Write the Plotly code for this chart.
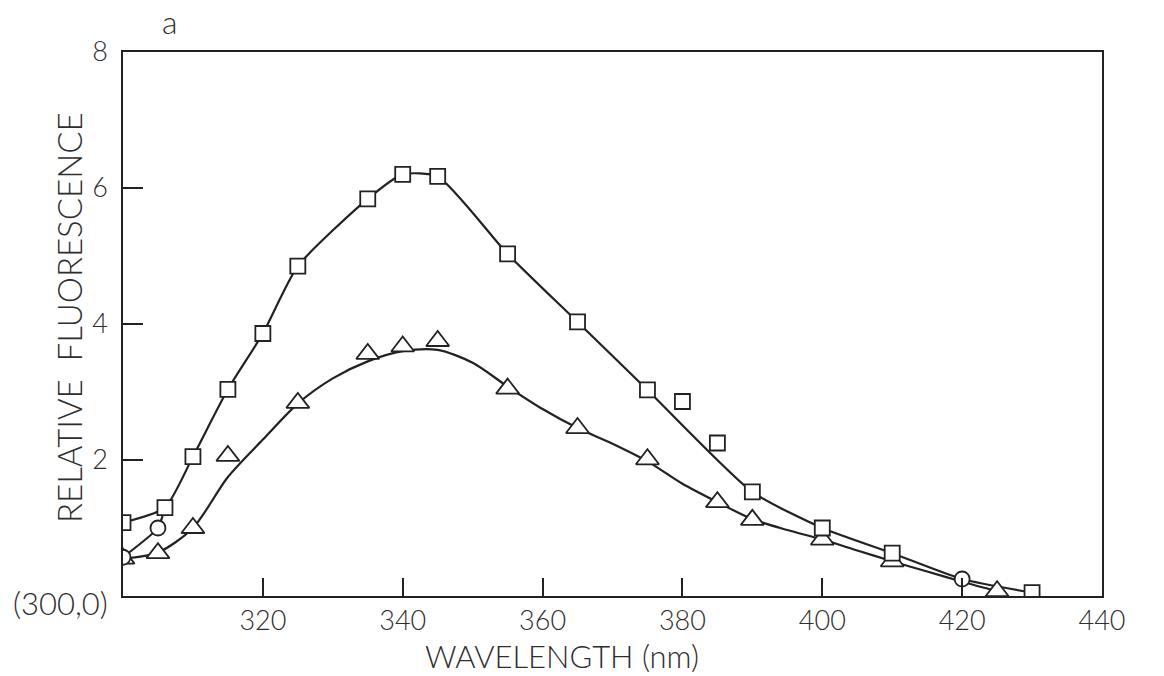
import plotly.graph_objects as go

# ---- data ----
sq_x = [300, 306, 310, 315, 320, 325, 335, 340, 345, 355, 365, 375, 380, 385, 390, 400, 410, 420, 430]
sq_y = [1.08, 1.30, 2.05, 3.04, 3.86, 4.85, 5.84, 6.20, 6.17, 5.03, 4.03, 3.03, 2.86, 2.25, 1.53, 1.00, 0.63, 0.25, 0.05]
sq_sym = ["square"] * 17 + ["circle", "square"]
sq_on_curve = [True] * 12 + [False, False] + [True] * 5

circ_x = [300, 305]
circ_y = [0.57, 1.00]

tri_x = [300, 305, 310, 315, 325, 335, 340, 345, 355, 365, 375, 385, 390, 400, 410, 425]
tri_y = [0.55, 0.63, 1.00, 2.06, 2.84, 3.56, 3.67, 3.75, 3.05, 2.47, 2.01, 1.38, 1.12, 0.83, 0.51, 0.07]

tc_x = [300, 305, 310, 315, 320, 325, 330, 335, 340, 345, 350, 355, 360, 365, 370, 375, 380, 385, 390, 395, 400, 405, 410, 415, 420, 425]
tc_y = [0.55, 0.64, 1.00, 1.75, 2.30, 2.83, 3.20, 3.45, 3.60, 3.62, 3.43, 3.08, 2.75, 2.47, 2.24, 1.98, 1.65, 1.38, 1.13, 0.97, 0.83, 0.67, 0.51, 0.36, 0.21, 0.07]

x_ticks = [320, 340, 360, 380, 400, 420, 440]
y_ticks = [2, 4, 6, 8]

INK = "#222222"
TXT = "#2e2e2e"
FONT = "Lato"

fig = go.Figure()

lx = [x for x, k in zip(sq_x, sq_on_curve) if k]
ly = [y for y, k in zip(sq_y, sq_on_curve) if k]
fig.add_trace(go.Scatter(x=lx, y=ly, mode="lines",
                         line=dict(color=INK, width=2.2, shape="spline", smoothing=0.6),
                         hoverinfo="skip"))
fig.add_trace(go.Scatter(x=circ_x + [sq_x[1]], y=circ_y + [sq_y[1]], mode="lines",
                         line=dict(color=INK, width=2.2, shape="spline", smoothing=0.5),
                         hoverinfo="skip"))
fig.add_trace(go.Scatter(x=tc_x, y=tc_y, mode="lines",
                         line=dict(color=INK, width=2.2, shape="spline", smoothing=0.8),
                         hoverinfo="skip"))

fig.add_trace(go.Scatter(x=tri_x, y=tri_y, mode="markers",
                         marker=dict(symbol="triangle-up", size=20, color="white",
                                     line=dict(color=INK, width=1.8))))
fig.add_trace(go.Scatter(x=circ_x, y=circ_y, mode="markers",
                         marker=dict(symbol="circle", size=15, color="white",
                                     line=dict(color=INK, width=1.8))))
fig.add_trace(go.Scatter(x=sq_x, y=sq_y, mode="markers",
                         marker=dict(symbol=sq_sym, size=15, color="white",
                                     line=dict(color=INK, width=1.8))))

tickfont = dict(family=FONT, size=27, color=TXT, weight=300)
axis_common = dict(showline=True, linecolor=INK, linewidth=1.6, mirror=True,
                   ticks="inside", tickcolor=INK, tickwidth=1.6,
                   showgrid=False, zeroline=False, tickfont=tickfont)

fig.update_xaxes(range=[300, 440], tickvals=x_ticks, ticktext=[str(v) for v in x_ticks],
                 ticklen=18, ticklabelstandoff=0, **axis_common)
fig.update_yaxes(range=[0, 8], tickvals=y_ticks, ticktext=[str(v) for v in y_ticks],
                 ticklen=20, ticklabelstandoff=8, **axis_common)

L, R, T, B = 123, 62, 52, 80
W, H = 1164, 676
pw = W - L - R
ph = H - T - B


def px(xp):
    return (xp - L) / pw


def py(yp):
    return 1 - (yp - T) / ph


fig.update_layout(
    width=W, height=H,
    margin=dict(l=L, r=R, t=T, b=B),
    paper_bgcolor="white", plot_bgcolor="white",
    showlegend=False,
    annotations=[
        dict(text="(300,0)", x=px(61), y=py(603), xref="paper", yref="paper",
             xanchor="center", yanchor="middle", showarrow=False,
             font=dict(family=FONT, size=31, color=TXT, weight=300)),
        dict(text="WAVELENGTH (nm)", x=px(562), y=py(656), xref="paper", yref="paper",
             xanchor="center", yanchor="middle", showarrow=False,
             font=dict(family=FONT, size=31, color=TXT, weight=300)),
        dict(text="RELATIVE  FLUORESCENCE", x=px(69), y=py(318), xref="paper", yref="paper",
             xanchor="center", yanchor="middle", textangle=-90, showarrow=False,
             font=dict(family=FONT, size=33, color=TXT, weight=300)),
        dict(text="a", x=px(170), y=py(22), xref="paper", yref="paper",
             xanchor="center", yanchor="middle", showarrow=False,
             font=dict(family=FONT, size=32, color=TXT, weight=300)),
    ],
)

fig.write_html("out.html")
